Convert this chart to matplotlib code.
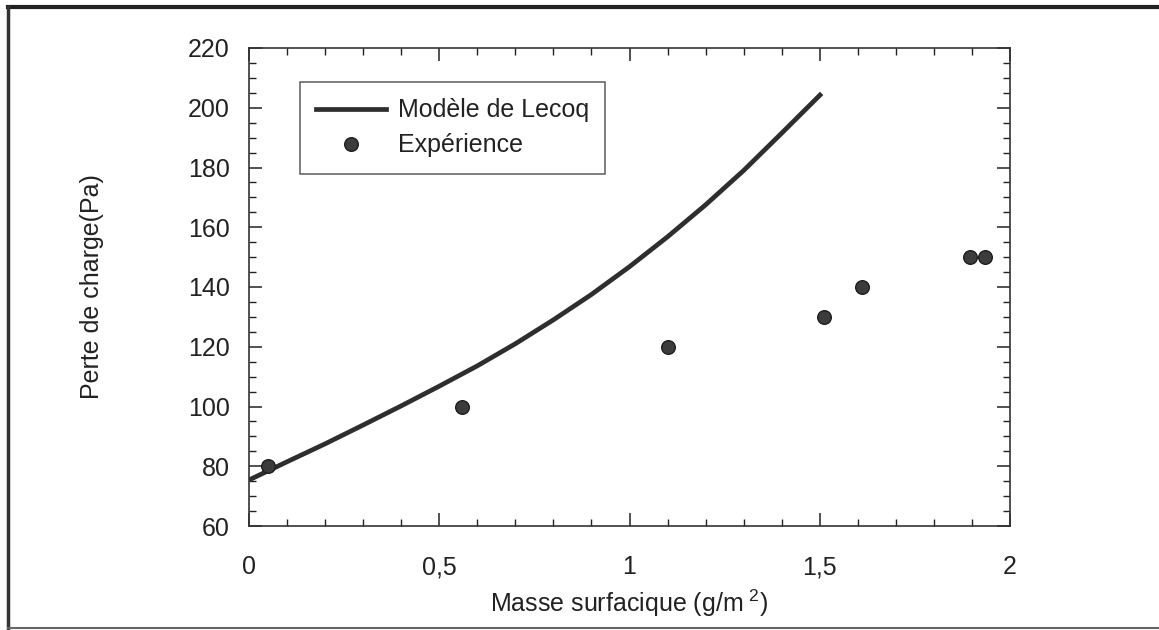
import matplotlib.pyplot as plt
from matplotlib.ticker import MultipleLocator, FuncFormatter
from matplotlib.lines import Line2D

plt.rcParams['font.family'] = ['Liberation Sans', 'DejaVu Sans']
plt.rcParams['mathtext.fontset'] = 'custom'
plt.rcParams['mathtext.rm'] = 'Liberation Sans'

# courbe du modèle
modele_x = [0.0, 0.1, 0.2, 0.3, 0.4, 0.5, 0.6, 0.7, 0.8, 0.9,
            1.0, 1.1, 1.2, 1.3, 1.4, 1.505]
modele_y = [75.4, 81.5, 87.5, 93.8, 100.2, 106.8, 113.6, 121.0, 129.0, 137.5,
            146.8, 156.8, 167.5, 179.0, 191.5, 204.8]

# points expérimentaux
exp_x = [0.05, 0.56, 1.10, 1.51, 1.61, 1.895, 1.935]
exp_y = [80, 100, 120, 130, 140, 150, 150]

fig = plt.figure(figsize=(11.59, 6.30), dpi=100)
ax = fig.add_axes([249 / 1159, 1 - 526 / 630, 761 / 1159, 478 / 630])

ax.plot(modele_x, modele_y, color='#2e2e2e', lw=3.4, solid_capstyle='butt',
        solid_joinstyle='round')
ax.plot(exp_x, exp_y, 'o', color='#3c3c3c', mec='#1e1e1e', mew=1, ms=9.8)

ax.set_xlim(0, 2)
ax.set_ylim(60, 220)
ax.xaxis.set_major_locator(MultipleLocator(0.5))
ax.xaxis.set_minor_locator(MultipleLocator(0.1))
ax.yaxis.set_major_locator(MultipleLocator(20))
ax.yaxis.set_minor_locator(MultipleLocator(5))
ax.xaxis.set_major_formatter(FuncFormatter(lambda v, p: ('%g' % v).replace('.', ',')))

ax.tick_params(which='both', direction='in', top=True, right=True, color='#222222')
ax.tick_params(which='major', length=9.5, width=1.1, labelsize=18, colors='#222222')
ax.tick_params(which='minor', length=5, width=1.0)
ax.tick_params(axis='x', which='major', pad=21)
ax.tick_params(axis='y', which='major', pad=14)
for s in ax.spines.values():
    s.set_linewidth(1.2)
    s.set_color('#333333')

ax.set_ylabel('Perte de charge(Pa)', fontsize=18, color='#222222', labelpad=60)
ax.set_xlabel(r'Masse surfacique (g/m$^{\ 2}$)', fontsize=18, color='#222222', labelpad=6)

handles = [Line2D([], [], color='#2e2e2e', lw=3.4),
           Line2D([], [], marker='o', ls='', color='#3c3c3c', mec='#1e1e1e', ms=9.8)]
leg = ax.legend(handles, ['Modèle de Lecoq', 'Expérience'], loc='upper left',
                bbox_to_anchor=(0.067, 0.929), fontsize=18, frameon=True, fancybox=False,
                edgecolor='#333333', handlelength=2.8, handletextpad=0.45,
                borderpad=0.66, labelspacing=0.44, borderaxespad=0)
leg.get_frame().set_linewidth(1.1)
for t in leg.get_texts():
    t.set_color('#222222')

# cadre de la figure scannée
fig.add_artist(Line2D([8 / 1159, 1], [1 - 7 / 630, 1 - 7 / 630], transform=fig.transFigure,
                      color='#222222', lw=3))
fig.add_artist(Line2D([8 / 1159, 8 / 1159], [1 - 7 / 630, 1 - 628 / 630], transform=fig.transFigure,
                      color='#333333', lw=2.5))
fig.add_artist(Line2D([8 / 1159, 1], [1 - 628 / 630, 1 - 628 / 630], transform=fig.transFigure,
                      color='#666666', lw=1.5))

fig.savefig('out.png', dpi=100)
